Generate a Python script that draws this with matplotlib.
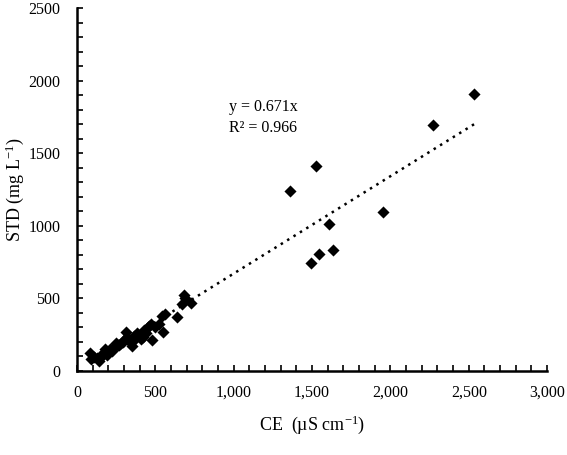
import matplotlib
matplotlib.use('Agg')
import matplotlib.pyplot as plt
import numpy as np
from matplotlib.ticker import MultipleLocator, FuncFormatter

plt.rcParams['font.family'] = 'Liberation Serif'
plt.rcParams['mathtext.fontset'] = 'custom'
plt.rcParams['mathtext.rm'] = 'Liberation Serif'
plt.rcParams['mathtext.it'] = 'Liberation Serif:italic'

# conductivity (uS/cm) vs total dissolved solids (mg/L)
ce = [80, 90, 110, 130, 140, 150, 160, 170, 180, 190, 200, 210, 220, 230, 240,
      250, 260, 270, 280, 290, 300, 310, 320, 340, 350, 360, 370, 380, 400, 410,
      420, 430, 440, 450, 460, 470, 480, 500, 520, 540, 550, 560, 640, 670, 680,
      690, 730,
      1360, 1494, 1526, 1545, 1609, 1634, 1953, 2272, 2534]
std = [125, 80, 95, 85, 70, 110, 100, 120, 150, 110, 130, 150, 140, 160, 170,
       190, 180, 175, 190, 200, 210, 270, 230, 200, 170, 240, 220, 260, 250, 220,
       230, 280, 260, 300, 310, 320, 210, 300, 320, 380, 270, 390, 370, 460, 520,
       500, 470,
       1241, 746, 1413, 808, 1014, 836, 1097, 1695, 1908]
slope = 0.671
r2 = 0.966

ce = np.array(ce)
std = np.array(std)

fig = plt.figure(figsize=(5.67, 4.55), dpi=100)
ax = fig.add_axes([0.136, 0.185, 0.829, 0.797])

ax.scatter(ce, std, marker='D', s=38, color='black', zorder=3, linewidths=0)

xfit = np.array([ce.min(), ce.max()])
ax.plot(xfit, slope * xfit, ls=(0, (1, 2)), color='black', lw=1.8, zorder=2)

ax.text(970, 1819, 'y = %.3fx' % slope, fontsize=11.5, va='center')
ax.text(970, 1674, 'R² = %.3f' % r2, fontsize=11.5, va='center')

ax.set_xlim(0, 3000)
ax.set_ylim(0, 2500)
ax.xaxis.set_major_locator(MultipleLocator(500))
ax.xaxis.set_minor_locator(MultipleLocator(100))
ax.yaxis.set_major_locator(MultipleLocator(500))
ax.yaxis.set_minor_locator(MultipleLocator(100))
ax.xaxis.set_major_formatter(FuncFormatter(lambda v, p: '{:,.0f}'.format(v)))
ax.tick_params(axis='both', which='both', direction='in', width=1.2, labelsize=11.5)
ax.tick_params(axis='both', which='major', length=4)
ax.tick_params(axis='x', which='major', pad=10)
ax.tick_params(axis='y', which='major', pad=12)
ax.tick_params(axis='both', which='minor', length=4)

for side in ['top', 'right']:
    ax.spines[side].set_visible(False)
for side in ['left', 'bottom']:
    ax.spines[side].set_linewidth(1.8)

ax.set_xlabel('CE  (µS cm$^{-1}$)', fontsize=13, labelpad=9)
ax.set_ylabel('STD (mg L$^{-1}$)', fontsize=13, va='center')
ax.yaxis.set_label_coords(-0.132, 0.5)

fig.savefig('out.png', dpi=100)
